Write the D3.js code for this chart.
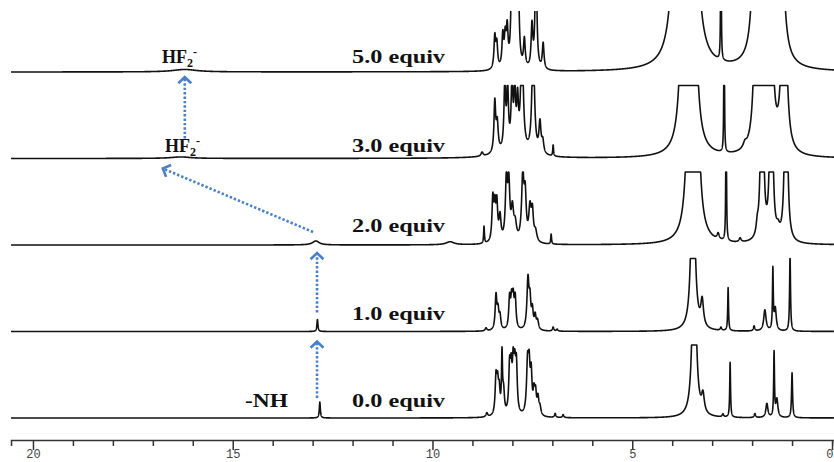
<!DOCTYPE html>
<html>
<head>
<meta charset="utf-8">
<script src="https://cdn.jsdelivr.net/npm/d3@7"></script>
<style>
  body { margin: 0; background: #fff; }
  svg { display: block; }
</style>
</head>
<body>
<svg width="834" height="462"></svg>
<script>
// spectra, bottom to top; each peak = [ppm, height, half width in ppm]
const equivLabels = ["0.0 equiv", "1.0 equiv", "2.0 equiv", "3.0 equiv", "5.0 equiv"];

const peaks0 = [
  [12.82, 16, 0.015],
  [8.64, 4, 0.025], [8.41, 36, 0.025], [8.37, 28, 0.025], [8.33, 22, 0.025], [8.26, 58, 0.015], [8.22, 22, 0.025],
  [8.07, 44, 0.025], [8.03, 38, 0.025], [7.98, 44, 0.025], [7.94, 38, 0.025], [7.90, 46, 0.025],
  [7.62, 50, 0.03], [7.58, 40, 0.025], [7.53, 38, 0.025], [7.46, 20, 0.025], [7.42, 20, 0.025], [7.36, 16, 0.025], [7.31, 8, 0.03],
  [6.93, 4, 0.02], [6.73, 3, 0.02],
  [3.45, 200, 0.05], [3.23, 18, 0.04], [2.73, 3, 0.02], [2.55, 55, 0.012], [1.93, 4, 0.02],
  [1.63, 14, 0.03], [1.45, 64, 0.012], [1.38, 18, 0.03], [1.00, 45, 0.015]
];
const peaks1 = [
  [12.88, 12, 0.015],
  [8.66, 3, 0.025], [8.41, 34, 0.025], [8.36, 18, 0.025], [8.31, 13, 0.025],
  [8.07, 30, 0.025], [8.02, 26, 0.025], [7.98, 27, 0.025], [7.93, 30, 0.025],
  [7.61, 50, 0.03], [7.56, 26, 0.025], [7.50, 18, 0.025], [7.43, 13, 0.025], [7.37, 9, 0.03],
  [6.98, 4, 0.02], [6.88, 2, 0.02],
  [3.48, 200, 0.05], [3.25, 26, 0.04], [2.78, 3, 0.02], [2.60, 43, 0.012], [1.95, 5, 0.02],
  [1.68, 21, 0.035], [1.48, 60, 0.012], [1.42, 22, 0.03], [1.05, 75, 0.014]
];
const peaks2 = [
  [12.92, 4, 0.1], [9.56, 3, 0.12],
  [8.71, 17, 0.012], [8.49, 42, 0.025], [8.44, 32, 0.025], [8.39, 36, 0.025], [8.31, 24, 0.03],
  [8.15, 60, 0.03], [8.09, 54, 0.03], [8.00, 30, 0.035], [7.93, 16, 0.04],
  [7.74, 64, 0.035], [7.68, 42, 0.03], [7.56, 32, 0.035], [7.50, 28, 0.03], [7.42, 10, 0.04],
  [7.03, 10, 0.012],
  [3.55, 250, 0.07], [3.40, 200, 0.07], [2.85, 6, 0.03], [2.65, 200, 0.008], [2.30, 4, 0.03],
  [1.87, 10, 0.03], [1.75, 300, 0.03], [1.52, 300, 0.03], [1.35, 8, 0.05], [1.15, 300, 0.03]
];
const peaks3 = [
  [16.3, 1.5, 0.3],
  [8.76, 4, 0.03], [8.0, 6, 0.4],
  [8.44, 50, 0.025], [8.38, 28, 0.03],
  [8.19, 65, 0.025], [8.12, 60, 0.025], [8.01, 65, 0.025], [7.94, 56, 0.025], [7.87, 44, 0.025],
  [7.76, 120, 0.035], [7.48, 120, 0.035], [7.31, 30, 0.03], [7.24, 12, 0.03],
  [6.98, 11, 0.012],
  [3.70, 300, 0.07], [3.48, 300, 0.07], [2.70, 300, 0.006], [2.18, 5, 0.05],
  [1.88, 300, 0.05], [1.72, 100, 0.06], [1.55, 300, 0.05], [1.20, 300, 0.05]
];
const peaks5 = [
  [16.2, 2.5, 0.35],
  [8.44, 32, 0.025], [8.39, 24, 0.025], [8.24, 32, 0.025], [8.18, 28, 0.025], [8.13, 36, 0.025],
  [8.01, 120, 0.025], [7.93, 120, 0.025], [7.86, 120, 0.025], [7.70, 28, 0.025],
  [7.51, 42, 0.025], [7.41, 120, 0.025], [7.23, 26, 0.025],
  [3.85, 400, 0.09], [3.50, 400, 0.09], [2.78, 300, 0.006],
  [1.90, 300, 0.06], [1.60, 300, 0.08], [1.30, 300, 0.06]
];
const spectra = [peaks0, peaks1, peaks2, peaks3, peaks5];
const tickLabels = [0, 5, 10, 15, 20];

const svg = d3.select("svg");
const width = +svg.attr("width");
const height = +svg.attr("height");

const x = d3.scaleLinear().domain([20.55, -0.05]).range([11, width]);
const base = d3.scaleLinear().domain([0, spectra.length - 1]).range([418, 72]);
const cap = 73;

svg.append("clipPath").attr("id", "top-clip")
  .append("rect").attr("x", 0).attr("y", 11).attr("width", width).attr("height", height);

const ppmGrid = d3.range(20.55, -0.05, -0.0025);

function intensity(peaks, ppm) {
  let s = 0;
  for (const [p, h, w] of peaks) {
    const d = (ppm - p) / w;
    s += h / (1 + d * d);
  }
  return s;
}

const g = svg.append("g").attr("clip-path", "url(#top-clip)");
spectra.forEach((peaks, i) => {
  const y = d3.scaleLinear().domain([0, 100]).range([base(i), base(i) - 100]);
  const line = d3.line()
    .x(d => x(d))
    .y(d => y(Math.min(cap, intensity(peaks, d))));
  g.append("path")
    .attr("d", line(ppmGrid))
    .attr("fill", "none")
    .attr("stroke", "#111")
    .attr("stroke-width", 1.6)
    .attr("stroke-linejoin", "round");
});

// labels
const labelY = [407, 320, 232, 152, 63];
svg.selectAll(".equiv").data(equivLabels).join("text")
  .attr("class", "equiv")
  .attr("x", 352).attr("y", (d, i) => labelY[i])
  .attr("textLength", 93).attr("lengthAdjust", "spacingAndGlyphs")
  .style("font", "bold 18px 'Liberation Serif', serif")
  .attr("fill", "#111")
  .text(d => d);

svg.append("text")
  .attr("x", 245).attr("y", 407)
  .attr("textLength", 43).attr("lengthAdjust", "spacingAndGlyphs")
  .style("font", "bold 18px 'Liberation Serif', serif")
  .attr("fill", "#111")
  .text("-NH");

[[162, 63], [165, 152]].forEach(([lx, ly]) => {
  const t = svg.append("text").attr("x", lx).attr("y", ly)
    .style("font", "bold 18px 'Liberation Serif', serif").attr("fill", "#111");
  t.append("tspan").text("HF");
  t.append("tspan").attr("dy", 4).style("font-size", "12px").text("2");
  t.append("tspan").attr("dy", -11).style("font-size", "12px").text("-");
});

// arrows: [ppm, spectrum, height above baseline]
const arrows = [
  [[12.89, 0, 20], [12.89, 1, -10]],
  [[12.89, 1, 19], [12.89, 2, -8]],
  [[12.99, 2, 13], [16.75, 3, -10]],
  [[16.2, 3, 20], [16.2, 4, -5]]
];
const blue = "#4a80c8";
arrows.forEach(([a, b]) => {
  const x1 = x(a[0]), y1 = base(a[1]) - a[2];
  const x2 = x(b[0]), y2 = base(b[1]) - b[2];
  svg.append("line")
    .attr("x1", x1).attr("y1", y1).attr("x2", x2).attr("y2", y2)
    .attr("stroke", blue).attr("stroke-width", 2.6)
    .attr("stroke-dasharray", "2.4,2");
  const ang = Math.atan2(y2 - y1, x2 - x1);
  const L = 9, spread = 0.8;
  const p1 = [x2 - L * Math.cos(ang - spread), y2 - L * Math.sin(ang - spread)];
  const p2 = [x2 - L * Math.cos(ang + spread), y2 - L * Math.sin(ang + spread)];
  svg.append("path")
    .attr("d", `M${p1}L${x2},${y2}L${p2}`)
    .attr("fill", "none").attr("stroke", blue).attr("stroke-width", 2.6);
});

// axis
const axisY = 440;
const axis = d3.axisBottom(x)
  .tickValues(d3.range(0, 21))
  .tickSizeOuter(0)
  .tickSize(6)
  .tickPadding(3)
  .tickFormat(d => tickLabels.includes(d) ? d : "");
const ag = svg.append("g").attr("transform", `translate(0,${axisY})`).call(axis);
ag.select(".domain").attr("stroke", "#333").attr("stroke-width", 1.5);
ag.selectAll(".tick line").attr("stroke", "#333").attr("stroke-width", 1.5)
  .attr("y2", d => tickLabels.includes(d) ? 10 : 6);
ag.selectAll(".tick text")
  .style("font", "12px 'Liberation Mono', monospace").attr("fill", "#444")
  .attr("text-anchor", d => d === 0 ? "end" : "middle")
  .attr("dx", d => d === 0 ? 1 : 0);
</script>
</body>
</html>
